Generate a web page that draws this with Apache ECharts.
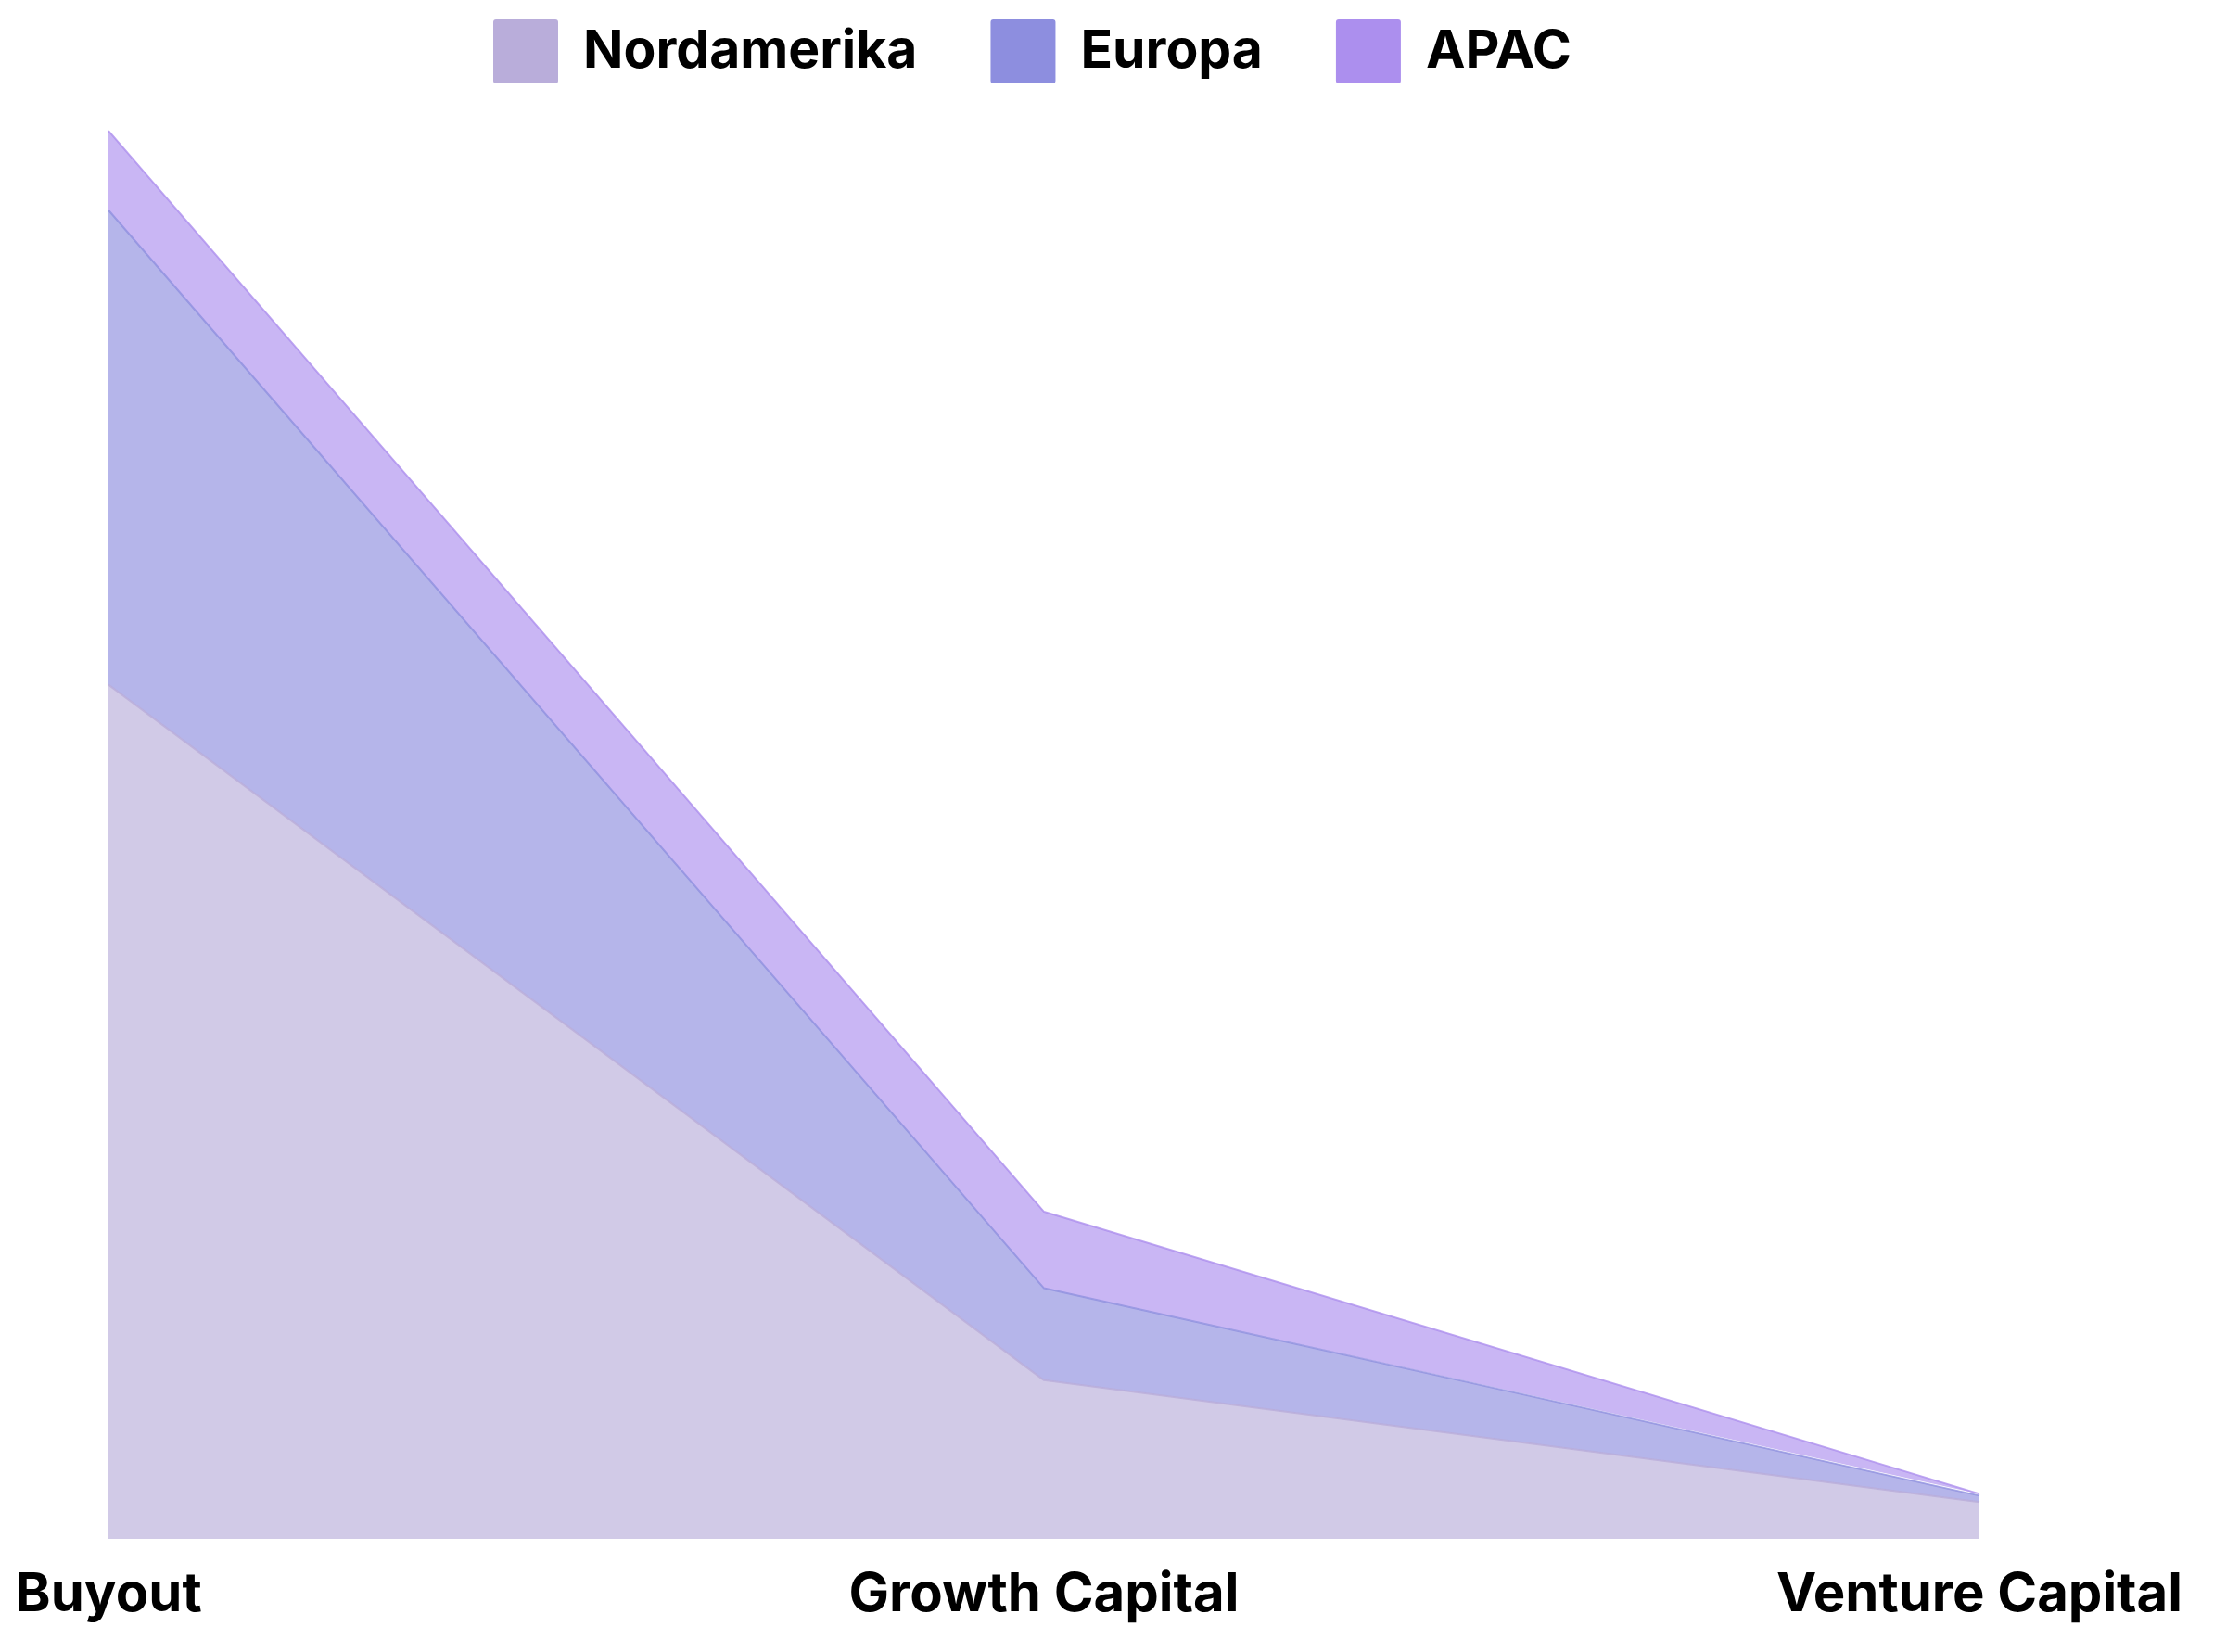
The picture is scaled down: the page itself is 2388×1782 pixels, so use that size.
<!DOCTYPE html>
<html><head><meta charset="utf-8">
<script src="https://cdn.jsdelivr.net/npm/echarts@6/dist/echarts.min.js"></script>
<style>html,body{margin:0;padding:0;background:#fff}#c{width:2388px;height:1782px}</style>
</head><body><div id="c"></div>
<script>
const categories = ['Buyout', 'Growth Capital', 'Venture Capital'];
const nordamerika = [60.3, 11.2, 2.6];
const europa = [33.5, 6.5, 0.45];
const apac = [5.6, 5.4, 0.13];
const seriesNames = ['Nordamerika', 'Europa', 'APAC'];
const colors = ['#B9ADDA', '#8D8EDF', '#AC8FEE'];

const chart = echarts.init(document.getElementById('c'));
const font = 'Inter';
const mk = (name, data, color) => ({
  name, type: 'line', stack: 'total', data, symbol: 'none',
  lineStyle: { width: 2, color: color, opacity: 0.8 },
  itemStyle: { color },
  areaStyle: { color, opacity: 0.65 }
});
chart.setOption({
  animation: false,
  color: colors,
  legend: {
    top: 16, left: 527, itemWidth: 70, itemHeight: 69, itemGap: 79,
    icon: 'path://M3,0 L67,0 Q70,0 70,3 L70,66 Q70,69 67,69 L3,69 Q0,69 0,66 L0,3 Q0,0 3,0 Z',
    textStyle: { fontFamily: font, fontWeight: 700, fontSize: 57, color: '#000', padding: [0, 0, 0, 22] },
    data: seriesNames
  },
  grid: { left: 117, right: 253, top: 132, bottom: 122 },
  xAxis: {
    type: 'category', data: categories, boundaryGap: false,
    axisLine: { show: false }, axisTick: { show: false }, splitLine: { show: false },
    axisLabel: { fontFamily: font, fontWeight: 700, fontSize: 58, color: '#000', margin: 32 }
  },
  yAxis: { type: 'value', min: 0, max: 100, show: false, splitLine: { show: false } },
  series: [mk(seriesNames[0], nordamerika, colors[0]), mk(seriesNames[1], europa, colors[1]), mk(seriesNames[2], apac, colors[2])]
});
</script></body></html>
